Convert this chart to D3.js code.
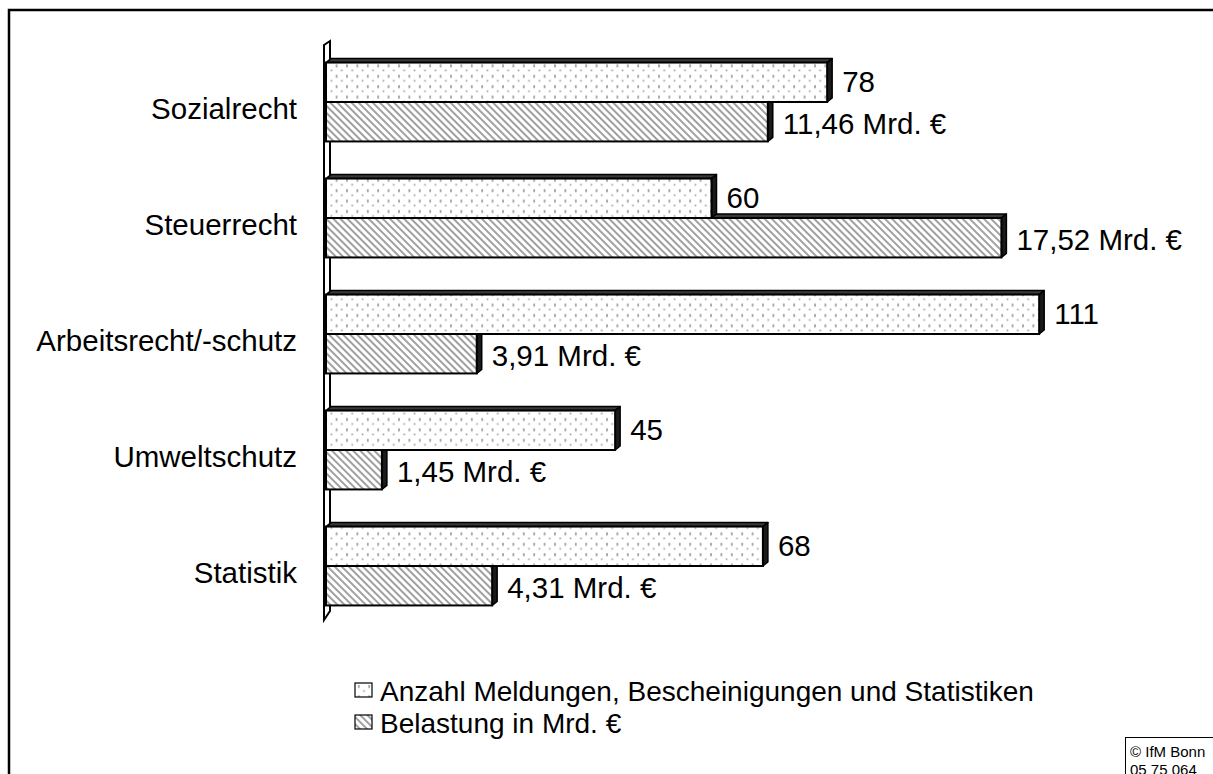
<!DOCTYPE html>
<html>
<head>
<meta charset="utf-8">
<script src="https://cdn.jsdelivr.net/npm/d3@7"></script>
<style>
  body { margin: 0; background: #fff; }
  text { font-family: "Liberation Sans", Arial, sans-serif; fill: #000; }
</style>
</head>
<body>
<svg width="1213" height="774"></svg>
<script>
const categories = ['Sozialrecht', 'Steuerrecht', 'Arbeitsrecht/-schutz', 'Umweltschutz', 'Statistik'];
const anzahl = [78, 60, 111, 45, 68];
const belastung = [11.46, 17.52, 3.91, 1.45, 4.31];
const seriesNames = ['Anzahl Meldungen, Bescheinigungen und Statistiken', 'Belastung in Mrd. €'];

const plotLeft = 326, plotRight = 1097;
const plotTop = 44, plotBottom = 624;
const dx = 5, dy = -4;
const labelSize = 29.5, legendSize = 28;

const svg = d3.select('svg');
const defs = svg.append('defs');

// dotted pattern
let dots = defs.append('pattern')
    .attr('id', 'dots')
    .attr('patternUnits', 'userSpaceOnUse')
    .attr('width', 10.4).attr('height', 10.4);
dots.append('rect').attr('width', 10.4).attr('height', 10.4).attr('fill', '#fff');
dots.append('rect').attr('x', 3).attr('y', 2).attr('width', 1.6).attr('height', 3).attr('fill', '#999');
dots.append('rect').attr('x', 8.2).attr('y', 7.2).attr('width', 1.6).attr('height', 1.6).attr('fill', '#999');

// hatch pattern
let hatch = defs.append('pattern')
    .attr('id', 'hatch')
    .attr('patternUnits', 'userSpaceOnUse')
    .attr('width', 5).attr('height', 5)
    .attr('patternTransform', 'rotate(-45)');
hatch.append('rect').attr('width', 5).attr('height', 5).attr('fill', '#fff');
hatch.append('rect').attr('width', 2).attr('height', 5).attr('fill', '#a0a0a0');

// outer frame
svg.append('rect')
    .attr('x', 9).attr('y', 10)
    .attr('width', 1300).attr('height', 900)
    .attr('fill', 'none')
    .attr('stroke', '#000')
    .attr('stroke-width', 2.5);

let y = d3.scaleBand()
    .domain(categories)
    .range([plotTop, plotBottom])
    .paddingInner(0.32)
    .paddingOuter(0.16);

let ySub = d3.scaleBand()
    .domain([0, 1])
    .range([0, y.bandwidth()]);

let xA = d3.scaleLinear().domain([0, 120]).range([plotLeft, plotRight]);
let xB = d3.scaleLinear().domain([0, 20]).range([plotLeft, plotRight]);

// wall
svg.append('polygon')
    .attr('points', [[plotLeft - 2, plotTop + 1], [plotLeft - 2 + dx + 1, plotTop + 1 + dy], [plotLeft - 2 + dx + 1, plotBottom - 9 + dy], [plotLeft - 2, plotBottom - 4]].join(' '))
    .attr('fill', '#fff')
    .attr('stroke', '#000')
    .attr('stroke-width', 2);

const fmt = v => d3.format('.2f')(v).replace('.', ',') + ' Mrd. €';

let rows = categories.map((c, i) => ({cat: c, a: anzahl[i], b: belastung[i]}));

function drawBar(g, x0, x1, y0, h, fill) {
    // top face
    g.append('polygon')
        .attr('points', [[x0, y0], [x0 + dx, y0 + dy], [x1 + dx, y0 + dy], [x1, y0]].join(' '))
        .attr('fill', '#3a3a3a').attr('stroke', '#000').attr('stroke-width', 1.5)
        .attr('stroke-linejoin', 'round');
    // right face
    g.append('polygon')
        .attr('points', [[x1, y0], [x1 + dx, y0 + dy], [x1 + dx, y0 + h + dy], [x1, y0 + h]].join(' '))
        .attr('fill', '#1a1a1a').attr('stroke', '#000').attr('stroke-width', 1.5)
        .attr('stroke-linejoin', 'round');
    // front
    g.append('rect')
        .attr('x', x0).attr('y', y0)
        .attr('width', x1 - x0).attr('height', h)
        .attr('fill', fill)
        .attr('stroke', '#000').attr('stroke-width', 2);
}

let barsG = svg.append('g');
rows.forEach(d => {
    let g = barsG.append('g');
    let y0 = y(d.cat);
    drawBar(g, plotLeft, xB(d.b), y0 + ySub(1), ySub.bandwidth(), 'url(#hatch)');
    drawBar(g, plotLeft, xA(d.a), y0 + ySub(0), ySub.bandwidth(), 'url(#dots)');
});

// value labels
rows.forEach(d => {
    let y0 = y(d.cat);
    svg.append('text')
        .attr('x', xA(d.a) + dx + 10)
        .attr('y', y0 + ySub(0) + ySub.bandwidth() / 2 - 1)
        .attr('dy', '0.36em')
        .attr('font-size', labelSize)
        .text(d.a);
    svg.append('text')
        .attr('x', xB(d.b) + dx + 10)
        .attr('y', y0 + ySub(1) + ySub.bandwidth() / 2 + 2)
        .attr('dy', '0.36em')
        .attr('font-size', labelSize)
        .text(fmt(d.b));
});

// category labels
svg.append('g').selectAll('text')
    .data(categories)
    .join('text')
    .attr('x', 297)
    .attr('y', d => y(d) + y.bandwidth() / 2 + 6)
    .attr('dy', '0.36em')
    .attr('text-anchor', 'end')
    .attr('font-size', labelSize)
    .text(d => d);

// legend
let legend = svg.append('g').attr('transform', 'translate(355, 683)');
let fills = ['url(#dots)', 'url(#hatch)'];
seriesNames.forEach((s, i) => {
    legend.append('rect')
        .attr('x', 0).attr('y', i * 32)
        .attr('width', 17).attr('height', 14)
        .attr('fill', fills[i])
        .attr('stroke', '#000').attr('stroke-width', 1.2);
    legend.append('text')
        .attr('x', 25).attr('y', i * 32 + 8)
        .attr('dy', '0.36em')
        .attr('font-size', legendSize)
        .text(s);
});

// copyright box
svg.append('rect')
    .attr('x', 1125.5).attr('y', 737.5)
    .attr('width', 100).attr('height', 60)
    .attr('fill', '#fff').attr('stroke', '#000');
svg.append('text').attr('x', 1130).attr('y', 757).attr('font-size', 15).text('© IfM Bonn');
svg.append('text').attr('x', 1130).attr('y', 775).attr('font-size', 15).text('05 75 064');
</script>
</body>
</html>
